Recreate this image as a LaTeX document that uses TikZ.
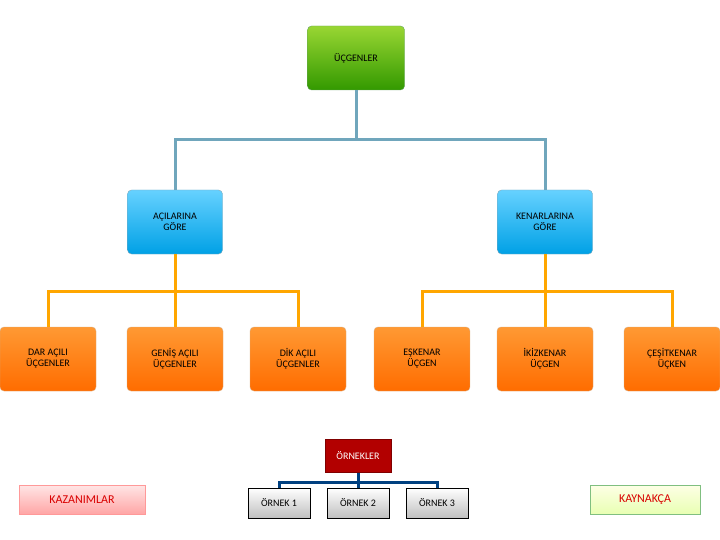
\documentclass[tikz,border=0pt]{standalone}
\usepackage{fontspec}
\setmainfont{Carlito}
\begin{document}
\begin{tikzpicture}[x=1pt,y=-1pt,
 box/.style={rounded corners=4pt,minimum width=96pt,minimum height=64pt,align=center,font=\fontsize{10}{11}\selectfont,text=black},
 green/.style={box,top color=green!60!black!50!yellow!80,bottom color=green!50!black!80!yellow,draw=green!40!black!60,minimum width=97pt},
 blue/.style={box,top color=cyan!70!blue!60,bottom color=cyan!70!blue!90!black,draw=cyan!50!black!60,minimum width=95pt},
 orange/.style={box,top color=orange!80,bottom color=orange!85!red,draw=orange!70!black!50},
 gray/.style={draw=black,top color=white,bottom color=black!25,minimum width=62pt,minimum height=30pt,font=\fontsize{10}{11}\selectfont},
 bl/.style={line width=3pt,draw=cyan!60!black!70},
 ol/.style={line width=3pt,draw=orange!70!yellow},
 nl/.style={line width=3pt,draw=blue!50!cyan!50!black}]
\useasboundingbox (0,0) rectangle (720,540);
\node[green] (u) at (356,58) {ÜÇGENLER};
\node[blue] (a) at (175,222) {AÇILARINA\\GÖRE};
\node[blue] (k) at (545,222) {KENARLARINA\\GÖRE};
\node[orange] (o1) at (48,359) {DAR AÇILI\\ÜÇGENLER};
\node[orange] (o2) at (175,359) {GENİŞ AÇILI\\ÜÇGENLER};
\node[orange] (o3) at (298,359) {DİK AÇILI\\ÜÇGENLER};
\node[orange] (o4) at (422,359) {EŞKENAR\\ÜÇGEN};
\node[orange] (o5) at (545,359) {İKİZKENAR\\ÜÇGEN};
\node[orange] (o6) at (672,359) {ÇEŞİTKENAR\\ÜÇKEN};
\draw[bl] (u.south) -- (356,140) -| (a.north);
\draw[bl] (356,140) -| (k.north);
\draw[ol] (a.south) -- (175,291) -| (o1.north);
\draw[ol] (175,291) -- (o2.north);
\draw[ol] (175,291) -| (o3.north);
\draw[ol] (k.south) -- (545,291) -| (o4.north);
\draw[ol] (545,291) -- (o5.north);
\draw[ol] (545,291) -| (o6.north);
\node[draw=red!50!black,fill=red!70!black,text=white,minimum width=66pt,minimum height=33pt,font=\fontsize{10}{11}\selectfont] (r) at (358,456) {ÖRNEKLER};
\node[gray] (e1) at (279,503) {ÖRNEK 1};
\node[gray] (e2) at (358,503) {ÖRNEK 2};
\node[gray] (e3) at (437,503) {ÖRNEK 3};
\draw[nl] (r.south) -- (358,482) -| (e1.north);
\draw[nl] (358,482) -- (e2.north);
\draw[nl] (358,482) -| (e3.north);
\node[draw=red!40,top color=red!10,bottom color=red!35,text=red!85!black,minimum width=126pt,minimum height=29pt,font=\fontsize{12}{14}\selectfont] (kz) at (82,499.5) {KAZANIMLAR};
\node[draw=green!50!black!50,top color=green!5!yellow!10,bottom color=green!30!yellow!30,text=red!85!black,minimum width=110pt,minimum height=29pt,font=\fontsize{12}{14}\selectfont] (ky) at (645,499.5) {KAYNAKÇA};
\end{tikzpicture}
\end{document}
